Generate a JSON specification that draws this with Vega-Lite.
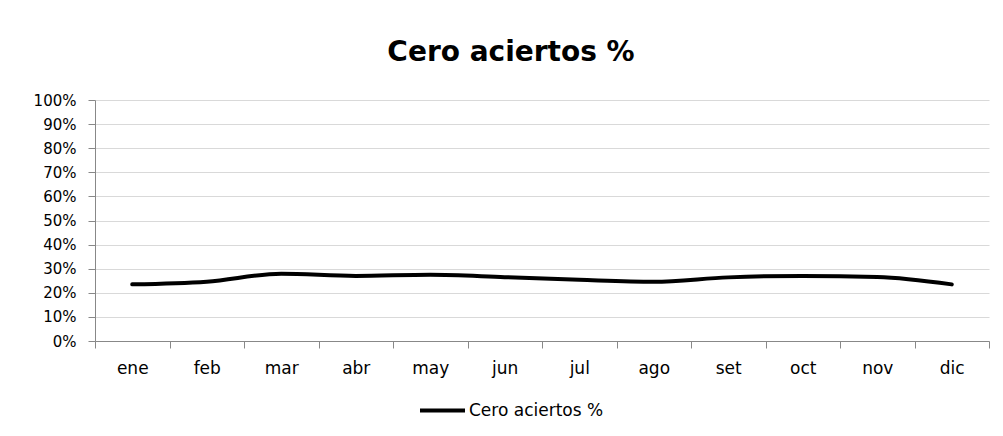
{
  "$schema": "https://vega.github.io/schema/vega-lite/v6.json",
  "width": 894,
  "height": 241,
  "autosize": {"type": "none"},
  "padding": {"left": 95, "top": 100, "right": 14, "bottom": 95},
  "background": "white",
  "title": {
    "text": "Cero aciertos %",
    "font": "DejaVu Sans",
    "fontSize": 28,
    "fontWeight": "bold",
    "color": "black",
    "anchor": "middle",
    "dx": -31,
    "offset": 26
  },
  "data": {
    "values": [
      {"mes": "ene", "valor": 0.235, "serie": "Cero aciertos %"},
      {"mes": "feb", "valor": 0.246, "serie": "Cero aciertos %"},
      {"mes": "mar", "valor": 0.279, "serie": "Cero aciertos %"},
      {"mes": "abr", "valor": 0.270, "serie": "Cero aciertos %"},
      {"mes": "may", "valor": 0.275, "serie": "Cero aciertos %"},
      {"mes": "jun", "valor": 0.265, "serie": "Cero aciertos %"},
      {"mes": "jul", "valor": 0.254, "serie": "Cero aciertos %"},
      {"mes": "ago", "valor": 0.246, "serie": "Cero aciertos %"},
      {"mes": "set", "valor": 0.264, "serie": "Cero aciertos %"},
      {"mes": "oct", "valor": 0.270, "serie": "Cero aciertos %"},
      {"mes": "nov", "valor": 0.266, "serie": "Cero aciertos %"},
      {"mes": "dic", "valor": 0.235, "serie": "Cero aciertos %"}
    ]
  },
  "mark": {"type": "line", "interpolate": "monotone", "strokeWidth": 4, "strokeCap": "round"},
  "encoding": {
    "x": {
      "field": "mes",
      "type": "ordinal",
      "sort": null,
      "scale": {"paddingInner": 0, "paddingOuter": 0},
      "axis": {
        "title": null,
        "labelAngle": 0,
        "labelFont": "DejaVu Sans",
        "labelFontSize": 17,
        "labelColor": "black",
        "labelPadding": 12,
        "domainColor": "#888888",
        "tickColor": "#888888",
        "tickSize": 7,
        "tickBand": "extent",
        "grid": false
      }
    },
    "y": {
      "field": "valor",
      "type": "quantitative",
      "scale": {"domain": [0, 1], "nice": false},
      "axis": {
        "title": null,
        "format": ".0%",
        "values": [0, 0.1, 0.2, 0.3, 0.4, 0.5, 0.6, 0.7, 0.8, 0.9, 1],
        "labelFont": "DejaVu Sans",
        "labelFontSize": 15,
        "labelColor": "black",
        "labelPadding": 12,
        "domainColor": "#888888",
        "tickColor": "#888888",
        "tickSize": 7,
        "gridColor": "#d9d9d9",
        "gridWidth": 1
      }
    },
    "color": {
      "field": "serie",
      "type": "nominal",
      "scale": {"range": ["black"]},
      "legend": {
        "title": null,
        "orient": "none",
        "legendX": 323,
        "legendY": 286,
        "direction": "horizontal",
        "symbolType": "stroke",
        "symbolSize": 2025,
        "symbolStrokeWidth": 4,
        "labelFont": "DejaVu Sans",
        "labelFontSize": 17,
        "labelColor": "black",
        "labelOffset": 2
      }
    }
  },
  "config": {
    "view": {"stroke": null},
    "axis": {"domainWidth": 1, "tickWidth": 1}
  }
}
